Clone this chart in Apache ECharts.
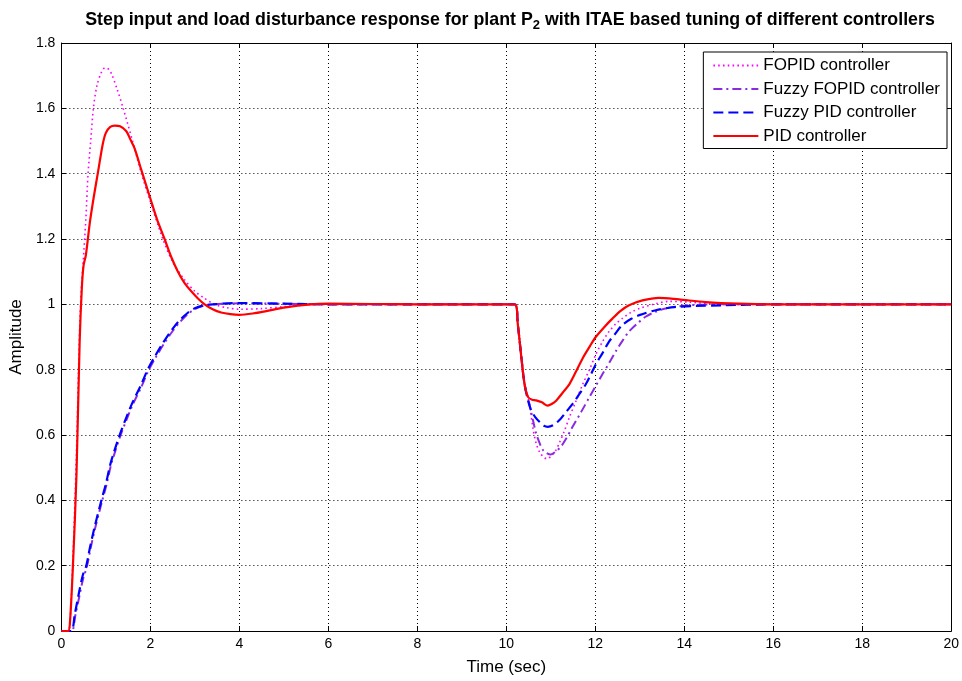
<!DOCTYPE html>
<html>
<head>
<meta charset="utf-8">
<script src="https://cdn.jsdelivr.net/npm/echarts@6/dist/echarts.min.js"></script>
<style>
html,body{margin:0;padding:0;background:#fff;}
#chart{width:962px;height:681px;}
</style>
</head>
<body>
<div id="chart"></div>
<script>
// Series data: [time (sec), amplitude]
var fopid = [[0,0],[0.15,0],[0.19,0.02],[0.26,0.22],[0.34,0.55],[0.41,0.92],[0.45,1.05],[0.49,1.13],[0.55,1.26],[0.6,1.4],[0.66,1.5],[0.72,1.6],[0.8,1.67],[0.9,1.71],[0.98,1.724],[1.06,1.72],[1.13,1.705],[1.25,1.66],[1.39,1.6],[1.6,1.5],[1.8,1.4],[2.0,1.315],[2.28,1.2],[2.5,1.13],[2.77,1.075],[3.0,1.04],[3.2,1.02],[3.44,1.0],[3.7,0.99],[4.0,0.985],[4.5,0.987],[5.0,0.993],[5.6,0.999],[6,1.0],[10.19,1.0],[10.26,0.937],[10.34,0.836],[10.41,0.756],[10.52,0.695],[10.6,0.62],[10.67,0.575],[10.76,0.545],[10.86,0.53],[10.93,0.527],[11.0,0.535],[11.1,0.55],[11.19,0.575],[11.3,0.61],[11.42,0.655],[11.57,0.705],[11.72,0.756],[11.87,0.80],[12.01,0.846],[12.16,0.885],[12.31,0.917],[12.46,0.94],[12.61,0.957],[12.8,0.975],[12.99,0.987],[13.36,1.002],[13.66,1.009],[14.1,1.007],[14.85,1.0],[20,1.0]];

var fuzzyFopid = [[0,0],[0.23,0],[0.31,0.045],[0.41,0.11],[0.49,0.16],[0.57,0.195],[0.66,0.255],[0.76,0.315],[0.91,0.395],[1.01,0.445],[1.11,0.505],[1.21,0.55],[1.32,0.595],[1.46,0.645],[1.61,0.695],[1.79,0.745],[1.95,0.795],[2.11,0.835],[2.31,0.88],[2.51,0.92],[2.66,0.945],[2.86,0.972],[3.01,0.986],[3.2,0.996],[3.4,1.0],[4,1.003],[5,1.002],[6,1.0],[10.19,1.0],[10.26,0.937],[10.34,0.836],[10.41,0.756],[10.52,0.695],[10.6,0.645],[10.67,0.605],[10.75,0.575],[10.82,0.555],[10.9,0.545],[11.0,0.54],[11.1,0.548],[11.23,0.565],[11.35,0.59],[11.49,0.625],[11.68,0.67],[11.87,0.716],[12.01,0.75],[12.16,0.786],[12.31,0.82],[12.46,0.856],[12.61,0.888],[12.76,0.917],[12.95,0.942],[13.13,0.962],[13.35,0.977],[13.58,0.987],[14.1,0.997],[14.8,1.0],[20,1.0]];

var fuzzyPid = [[0,0],[0.22,0],[0.3,0.05],[0.4,0.12],[0.48,0.17],[0.56,0.2],[0.65,0.26],[0.75,0.32],[0.9,0.4],[1.0,0.45],[1.1,0.51],[1.2,0.555],[1.31,0.6],[1.45,0.65],[1.6,0.70],[1.78,0.75],[1.94,0.8],[2.1,0.84],[2.3,0.885],[2.5,0.925],[2.65,0.95],[2.85,0.975],[3.0,0.988],[3.2,0.997],[3.4,1.0],[4,1.004],[5,1.002],[6,1.0],[10.19,1.0],[10.26,0.937],[10.34,0.836],[10.41,0.756],[10.49,0.705],[10.56,0.675],[10.65,0.655],[10.75,0.64],[10.85,0.628],[10.93,0.625],[11.05,0.63],[11.19,0.645],[11.34,0.67],[11.49,0.695],[11.64,0.725],[11.79,0.756],[11.9,0.785],[12.01,0.816],[12.16,0.85],[12.31,0.886],[12.46,0.912],[12.61,0.937],[12.8,0.955],[12.99,0.967],[13.36,0.982],[13.81,0.992],[14.25,0.995],[14.85,0.997],[16,1.0],[20,1.0]];

var pid = [[0,0],[0.15,0],[0.19,0.02],[0.26,0.2],[0.34,0.48],[0.41,0.88],[0.46,1.05],[0.5,1.12],[0.55,1.15],[0.64,1.25],[0.73,1.33],[0.83,1.41],[0.93,1.49],[1.0,1.525],[1.1,1.543],[1.2,1.547],[1.32,1.545],[1.46,1.53],[1.55,1.505],[1.65,1.476],[1.8,1.41],[2.0,1.324],[2.15,1.26],[2.32,1.2],[2.47,1.145],[2.62,1.10],[2.77,1.065],[2.92,1.04],[3.07,1.018],[3.22,1.0],[3.4,0.985],[3.59,0.975],[3.8,0.97],[4.0,0.968],[4.3,0.972],[4.63,0.98],[5.0,0.99],[5.6,1.0],[6,1.002],[7,1.001],[8,1.0],[10.19,1.0],[10.26,0.937],[10.34,0.836],[10.41,0.756],[10.49,0.716],[10.58,0.708],[10.67,0.706],[10.8,0.70],[10.93,0.69],[11.02,0.695],[11.12,0.705],[11.27,0.73],[11.42,0.756],[11.57,0.795],[11.72,0.836],[11.87,0.87],[12.01,0.90],[12.2,0.93],[12.39,0.957],[12.57,0.98],[12.76,0.997],[13.06,1.012],[13.43,1.02],[13.88,1.015],[14.48,1.007],[15.22,1.002],[16,1.0],[20,1.0]];

var seriesNames = ['FOPID controller','Fuzzy FOPID controller','Fuzzy PID controller','PID controller'];
var xTicks = {min:0, max:20, interval:2};
var yTicks = {min:0, max:1.8, interval:0.2};

var FONT = 'Liberation Sans, Arial, sans-serif';
var chart = echarts.init(document.getElementById('chart'), null, {renderer:'canvas'});

function mkAxisCommon(){
  return {
    axisLine:{show:true, onZero:false, lineStyle:{color:'#000', width:1}},
    axisTick:{show:true, inside:true, length:5, lineStyle:{color:'#000'}},
    splitLine:{show:false}
  };
}

var option = {
  backgroundColor:'#fff',
  animation:false,
  title:{
    text:'Step input and load disturbance response for plant P{sub|2} with ITAE based tuning of different controllers',
    left:505, top:3, textAlign:'center',
    textStyle:{fontFamily:FONT, fontSize:17.8, fontWeight:'bold', color:'#000',
      rich:{sub:{fontFamily:FONT, fontSize:13, fontWeight:'bold', color:'#000', verticalAlign:'bottom', padding:[11,0,0,0]}}}
  },
  legend:{
    orient:'vertical', right:15, top:52,
    backgroundColor:'#fff', borderColor:'#000', borderWidth:1,
    padding:[5,7,4,9], itemGap:6.5, itemWidth:45, itemHeight:16,
    itemStyle:{opacity:0},
    textStyle:{fontFamily:FONT, fontSize:17, color:'#000'},
    data:seriesNames
  },
  grid:{left:60, top:43, right:8, bottom:45, containLabel:false},
  xAxis:[
    Object.assign(mkAxisCommon(), {
      type:'value', min:xTicks.min, max:xTicks.max, interval:xTicks.interval, position:'bottom',
      name:'Time (sec)', nameLocation:'middle', nameGap:28,
      nameTextStyle:{fontFamily:FONT, fontSize:17, color:'#000'},
      axisLabel:{fontFamily:FONT, fontSize:14, color:'#000', margin:6},
      splitLine:{show:true, lineStyle:{color:'#000', type:[1,3], width:1}}
    }),
    Object.assign(mkAxisCommon(), {
      type:'value', min:xTicks.min, max:xTicks.max, interval:xTicks.interval, position:'top',
      axisLabel:{show:false}
    })
  ],
  yAxis:[
    Object.assign(mkAxisCommon(), {
      type:'value', min:yTicks.min, max:yTicks.max, interval:yTicks.interval, position:'left',
      name:'Amplitude', nameLocation:'middle', nameGap:32, nameRotate:90,
      nameTextStyle:{fontFamily:FONT, fontSize:17, color:'#000'},
      axisLabel:{fontFamily:FONT, fontSize:14, color:'#000', margin:6,
        formatter:function(v){return String(Math.round(v*10)/10);}},
      splitLine:{show:true, lineStyle:{color:'#000', type:[1,3], width:1}}
    }),
    Object.assign(mkAxisCommon(), {
      type:'value', min:yTicks.min, max:yTicks.max, interval:yTicks.interval, position:'right',
      axisLabel:{show:false}
    })
  ],
  series:[
    {name:seriesNames[0], type:'line', data:fopid, showSymbol:false, symbol:'none', smooth:0.3,
      lineStyle:{color:'#ff00ff', width:1.6, type:[1.6,3.2]}, itemStyle:{color:'#ff00ff'}},
    {name:seriesNames[1], type:'line', data:fuzzyFopid, showSymbol:false, symbol:'none', smooth:0.3,
      lineStyle:{color:'#8a2be2', width:2, type:[9,4,2,4]}, itemStyle:{color:'#8a2be2'}},
    {name:seriesNames[2], type:'line', data:fuzzyPid, showSymbol:false, symbol:'none', smooth:0.3,
      lineStyle:{color:'#0000ff', width:2.2, type:[10,5]}, itemStyle:{color:'#0000ff'}},
    {name:seriesNames[3], type:'line', data:pid, showSymbol:false, symbol:'none', smooth:0.3,
      lineStyle:{color:'#ff0000', width:2.2, type:'solid'}, itemStyle:{color:'#ff0000'}}
  ]
};
chart.setOption(option);
</script>
</body>
</html>
